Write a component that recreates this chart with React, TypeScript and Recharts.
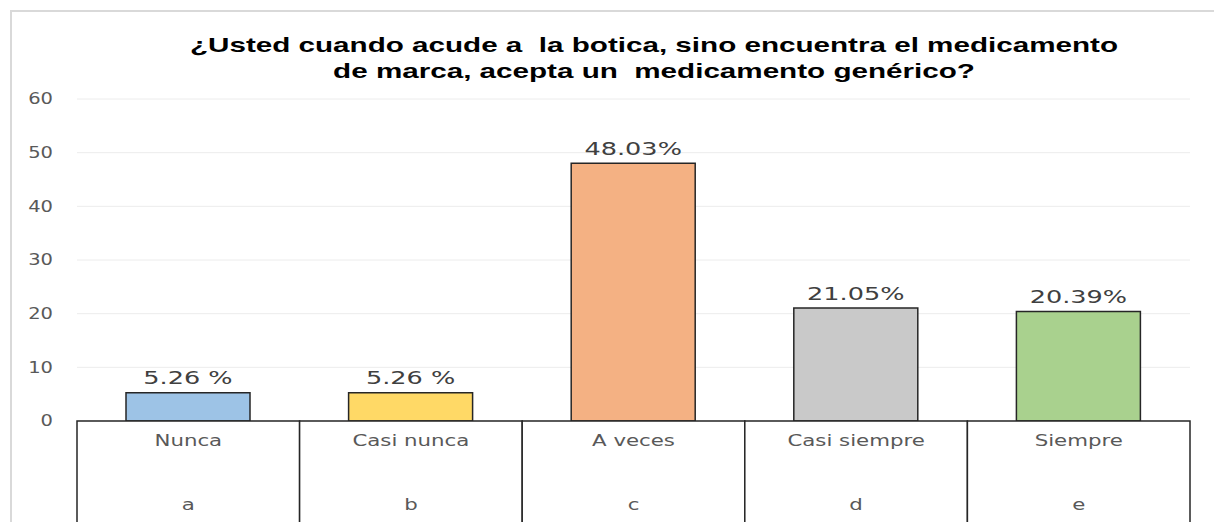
import { Bar, BarChart, CartesianGrid, Cell, LabelList, XAxis, YAxis } from 'recharts';

const categories = ['Nunca', 'Casi nunca', 'A veces', 'Casi siempre', 'Siempre'];
const letters = ['a', 'b', 'c', 'd', 'e'];
const values = [5.26, 5.26, 48.03, 21.05, 20.39];
const valueLabels = ['5.26 %', '5.26 %', '48.03%', '21.05%', '20.39%'];
const yTicks = [0, 10, 20, 30, 40, 50, 60];
const colors = ['#9dc3e6', '#ffd966', '#f4b183', '#c9c9c9', '#a9d18e'];

const data = categories.map((name, i) => ({
  name,
  letter: letters[i],
  value: values[i],
  label: valueLabels[i],
}));

const textFont = '"DejaVu Sans", sans-serif';

// the reference text is stretched horizontally, so scale it around its anchor
function WideText({ x, y, sx, anchor = 'middle', size, fill, children }: any) {
  return (
    <text
      transform={`translate(${x},${y}) scale(${sx},1)`}
      textAnchor={anchor}
      dominantBaseline="central"
      fontFamily={textFont}
      fontSize={size}
      fill={fill}
    >
      {children}
    </text>
  );
}

function CategoryTick(props: any) {
  const { x, y, payload, index } = props;
  const half = payload?.offset ?? 111.3;
  return (
    <g>
      <rect
        x={x - half}
        y={y}
        width={half * 2}
        height={140}
        fill="#fff"
        stroke="#262626"
        strokeWidth={1.5}
      />
      <WideText x={x} y={y + 20} sx={1.42} size={15} fill="#595959">
        {payload.value}
      </WideText>
      <WideText x={x} y={y + 84} sx={1.42} size={15} fill="#595959">
        {letters[index]}
      </WideText>
    </g>
  );
}

function ValueTick(props: any) {
  const { y, payload } = props;
  return (
    <WideText x={53} y={y} sx={1.3} anchor="end" size={15} fill="#595959">
      {payload.value}
    </WideText>
  );
}

function ValueLabel(props: any) {
  const { x, y, width, value } = props;
  return (
    <WideText x={x + width / 2} y={y - 15} sx={1.42} size={18} fill="#404040">
      {value}
    </WideText>
  );
}

export default function App() {
  return (
    <div
      style={{
        position: 'absolute',
        left: 0,
        top: 0,
        width: 1214,
        height: 522,
        background: '#fff',
        overflow: 'hidden',
      }}
    >
      <div
        style={{
          position: 'absolute',
          left: 10,
          top: 10,
          width: 1214,
          height: 522,
          borderTop: '2px solid #d9d9d9',
          borderLeft: '2px solid #d9d9d9',
        }}
      />
      <div
        style={{
          position: 'absolute',
          left: 154,
          width: 1000,
          top: 32,
          textAlign: 'center',
          fontFamily: '"Liberation Sans", Arial, sans-serif',
          fontWeight: 700,
          fontSize: 21,
          lineHeight: '26px',
          color: '#000',
          transform: 'scaleX(1.41)',
          transformOrigin: '500px 0',
          whiteSpace: 'pre',
        }}
      >
        {'¿Usted cuando acude a  la botica, sino encuentra el medicamento'}
        <br />
        {'de marca, acepta un  medicamento genérico?'}
      </div>
      <div style={{ position: 'absolute', left: 0, top: 0 }}>
        <BarChart
          width={1214}
          height={522}
          data={data}
          margin={{ top: 99, right: 24, bottom: 0, left: 0 }}
        >
          <CartesianGrid vertical={false} stroke="#ececec" strokeWidth={1} />
          <XAxis
            dataKey="name"
            axisLine={false}
            tickLine={false}
            tickSize={0}
            tickMargin={0}
            height={101}
            interval={0}
            tick={<CategoryTick />}
          />
          <YAxis
            domain={[0, 60]}
            ticks={yTicks}
            width={77}
            axisLine={false}
            tickLine={false}
            tick={<ValueTick />}
          />
          <Bar dataKey="value" barSize={124} stroke="#262626" strokeWidth={1.5} isAnimationActive={false}>
            {data.map((d, i) => (
              <Cell key={d.name} fill={colors[i]} />
            ))}
            <LabelList dataKey="label" content={<ValueLabel />} />
          </Bar>
        </BarChart>
      </div>
    </div>
  );
}
